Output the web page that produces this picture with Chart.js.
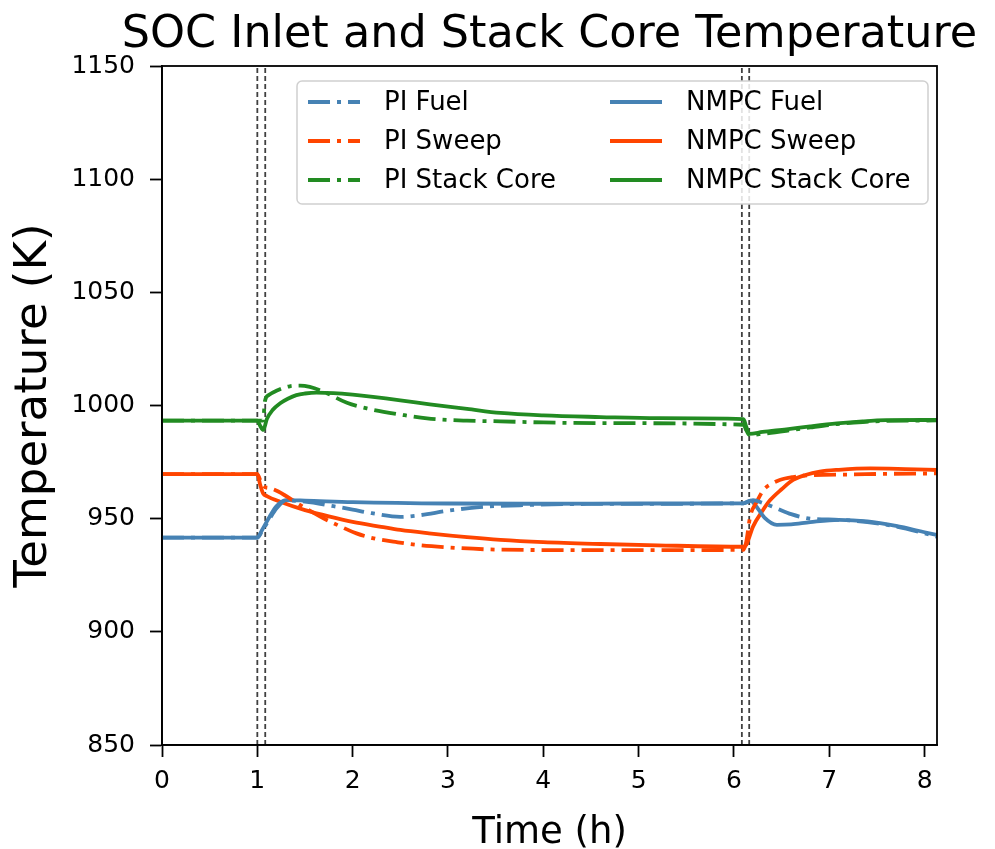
<!DOCTYPE html>
<html>
<head>
<meta charset="utf-8">
<title>SOC Inlet and Stack Core Temperature</title>
<script src="https://cdn.jsdelivr.net/npm/chart.js@4.4.1/dist/chart.umd.min.js"></script>
<style>
  html, body { margin: 0; padding: 0; background: #fff; }
</style>
</head>
<body>
<canvas id="mycanvas" width="995" height="849"></canvas>
<script>
// time (h) and temperature (K)
var tNmpcFuel = [0, 1.0, 1.05, 1.13, 1.2, 1.3, 1.5, 2.0, 3.0, 4.0, 5.0, 6.1, 6.17, 6.25, 6.32, 6.45, 6.6, 6.8, 7.1, 7.4, 7.7, 8.0, 8.13];
var nmpcFuel  = [941.6, 941.6, 945, 951, 955.5, 958.2, 958, 957.3, 956.7, 956.6, 956.7, 956.8, 958, 954.5, 950.5, 947.3, 947.5, 948.5, 949.5, 948.8, 946.8, 944, 942.8];

var tPiFuel = [0, 1.0, 1.05, 1.13, 1.2, 1.3, 1.5, 1.8, 2.0, 2.2, 2.5, 2.7, 3.0, 3.3, 3.8, 4.5, 6.1, 6.2, 6.3, 6.45, 6.6, 6.8, 7.1, 7.4, 7.7, 8.0, 8.13];
var piFuel  = [941.6, 941.6, 944.5, 950, 954.5, 958, 957.5, 955.5, 954, 952.4, 950.8, 951.5, 953.5, 955, 956, 956.5, 956.8, 958.2, 957, 954.5, 952, 950, 949.5, 948.5, 946.5, 943.5, 942];

var tNmpcSweep = [0, 1.0, 1.03, 1.06, 1.1, 1.24, 1.5, 1.76, 2.0, 2.3, 2.5, 2.8, 3.2, 3.55, 4.0, 4.6, 5.2, 6.1, 6.13, 6.2, 6.3, 6.38, 6.5, 6.62, 6.75, 6.9, 7.1, 7.43, 7.8, 8.13];
var nmpcSweep  = [969.7, 969.7, 965, 961.2, 960, 957.5, 953.8, 950.9, 948.6, 946.4, 945, 943.5, 941.8, 940.6, 939.6, 938.8, 938.2, 937.6, 938.5, 946.5, 953.5, 958.2, 963, 967.1, 969.3, 970.8, 971.6, 972.2, 971.9, 971.5];

var tPiSweep = [0, 1.0, 1.04, 1.08, 1.13, 1.22, 1.45, 1.66, 1.85, 2.04, 2.22, 2.45, 2.67, 3.0, 3.55, 4.5, 6.1, 6.13, 6.17, 6.24, 6.31, 6.4, 6.48, 6.62, 6.8, 7.2, 7.6, 8.13];
var piSweep  = [969.7, 969.7, 966, 964, 963.5, 962, 956, 950.9, 947, 943.5, 941.3, 939.7, 938.4, 937.3, 936.3, 936.1, 936.2, 940, 950.9, 957.5, 962.7, 965.5, 967.1, 968.4, 969.2, 969.5, 969.8, 970];

var tNmpcStack = [0, 1.0, 1.03, 1.063, 1.1, 1.16, 1.24, 1.32, 1.41, 1.5, 1.62, 1.8, 2.0, 2.5, 2.81, 3.2, 3.55, 4.0, 4.6, 5.2, 6.1, 6.13, 6.16, 6.3, 6.55, 6.8, 7.08, 7.35, 7.6, 8.13];
var nmpcStack  = [993.3, 993.3, 991, 989.2, 994, 998, 1001, 1003, 1004.6, 1005.3, 1005.7, 1005.5, 1004.8, 1002.3, 1000.5, 998.5, 996.7, 995.6, 994.9, 994.4, 994, 990.5, 987.5, 988.3, 989.5, 990.8, 992.1, 993, 993.5, 993.6];

var tPiStack = [0, 1.0, 1.06, 1.08, 1.12, 1.2, 1.34, 1.45, 1.55, 1.7, 1.94, 2.15, 2.53, 2.78, 3.2, 3.55, 4.0, 4.6, 6.1, 6.13, 6.16, 6.3, 6.55, 6.8, 7.08, 7.35, 7.6, 8.13];
var piStack  = [993.3, 993.3, 993.3, 1002, 1004.6, 1006.5, 1008.5, 1008.8, 1008.2, 1006, 1001.2, 998.7, 995.8, 994.3, 993.3, 993, 992.5, 992.2, 991.5, 989, 987, 987.5, 988.8, 990.3, 991.8, 992.7, 993.2, 993.4];

// step change markers (h)
var eventTimes = [1.0, 1.083, 6.083, 6.16];
var yTicks = [850, 900, 950, 1000, 1050, 1100, 1150];
var titleText = 'SOC Inlet and Stack Core Temperature';

var blue = '#4682B4', red = '#FF4500', green = '#228B22';
var fontFam = "'DejaVu Sans', sans-serif";
var dashDot = [22, 7, 4, 7];

function pts(t, v){
	var out = [];
	for(var i in t){
		out.push({x: t[i], y: v[i]});
	}
	return out;
}

function series(label, t, v, color, dash){
	return {
		label: label,
		data: pts(t, v),
		borderColor: color,
		backgroundColor: color,
		borderWidth: 3.8,
		borderDash: dash,
		pointRadius: 0,
		cubicInterpolationMode: 'monotone',
		fill: false
	};
}

var datasets = [
	series('PI Fuel', tPiFuel, piFuel, blue, dashDot),
	series('PI Sweep', tPiSweep, piSweep, red, dashDot),
	series('PI Stack Core', tPiStack, piStack, green, dashDot),
	series('NMPC Fuel', tNmpcFuel, nmpcFuel, blue, []),
	series('NMPC Sweep', tNmpcSweep, nmpcSweep, red, []),
	series('NMPC Stack Core', tNmpcStack, nmpcStack, green, [])
];

for(var e in eventTimes){
	datasets.push({
		label: '',
		data: [{x: eventTimes[e], y: yTicks[0]}, {x: eventTimes[e], y: yTicks[yTicks.length-1]}],
		borderColor: 'rgba(0,0,0,0.75)',
		borderWidth: 1.8,
		borderDash: [5, 3],
		pointRadius: 0,
		fill: false
	});
}

// full frame round the plot
var framePlugin = {
	id: 'frame',
	afterDatasetsDraw: function(chart){
		var a = chart.chartArea, ctx = chart.ctx;
		ctx.save();
		ctx.strokeStyle = '#000';
		ctx.lineWidth = 1.8;
		ctx.strokeRect(a.left, a.top, a.right - a.left, a.bottom - a.top);
		ctx.restore();
	}
};

// title centred over the plot area (built-in title squeezes long text to the box)
var plotTitle = {
	id: 'plotTitle',
	afterDraw: function(chart){
		var a = chart.chartArea, ctx = chart.ctx;
		ctx.save();
		ctx.font = '44.5px ' + fontFam;
		ctx.fillStyle = '#000';
		ctx.textAlign = 'center';
		ctx.textBaseline = 'alphabetic';
		ctx.fillText(titleText, (a.left + a.right) / 2, 47);
		ctx.restore();
	}
};

// two-column legend inside the plot, like the original
var boxLegend = {
	id: 'boxLegend',
	afterDraw: function(chart){
		var ctx = chart.ctx;
		ctx.save();
		var bx = 297, by = 81, bw = 631, bh = 123;
		ctx.fillStyle = 'rgba(255,255,255,0.85)';
		ctx.strokeStyle = '#d0d0d0';
		ctx.lineWidth = 1.5;
		ctx.beginPath();
		ctx.roundRect(bx, by, bw, bh, 5);
		ctx.fill();
		ctx.stroke();

		ctx.font = '26px ' + fontFam;
		ctx.textBaseline = 'middle';
		ctx.fillStyle = '#000';
		var colX = [308, 610];
		var rowY = [102, 141, 180];
		for(var i = 0; i < 6; i++){
			var ds = chart.data.datasets[i];
			var c = Math.floor(i / 3), r = i % 3;
			ctx.strokeStyle = ds.borderColor;
			ctx.lineWidth = ds.borderWidth;
			ctx.setLineDash(ds.borderDash);
			ctx.beginPath();
			ctx.moveTo(colX[c], rowY[r]);
			ctx.lineTo(colX[c] + 52, rowY[r]);
			ctx.stroke();
			ctx.setLineDash([]);
			ctx.fillText(ds.label, colX[c] + 76, rowY[r] + 1);
		}
		ctx.restore();
	}
};

var ctx = document.getElementById('mycanvas');
var chart = new Chart(ctx, {
	type: 'line',
	data: { datasets: datasets },
	plugins: [framePlugin, plotTitle, boxLegend],
	options: {
		responsive: false,
		animation: false,
		layout: { padding: { left: 0, right: 58, top: 66, bottom: 0 } },
		plugins: {
			legend: { display: false },
			tooltip: { enabled: false },
			title: { display: false }
		},
		scales: {
			x: {
				type: 'linear',
				min: 0,
				max: 8.13,
				afterFit: function(s){ s.height = 104; },
				ticks: { stepSize: 1, includeBounds: false, color: '#000', padding: 9, maxRotation: 0,
					font: { family: fontFam, size: 25 } },
				grid: { drawOnChartArea: false, drawTicks: true, tickLength: 12, color: '#000', tickWidth: 1.8 },
				border: { display: true, color: '#000', width: 1.8 },
				title: { display: true, text: 'Time (h)', color: '#000', padding: { top: 0, bottom: 2 },
					font: { family: fontFam, size: 37, lineHeight: 0.75 } }
			},
			y: {
				type: 'linear',
				min: yTicks[0],
				max: yTicks[yTicks.length-1],
				afterFit: function(s){ s.width = 162; },
				afterBuildTicks: function(s){
					s.ticks = [];
					for(var i in yTicks){ s.ticks.push({value: yTicks[i]}); }
				},
				ticks: { color: '#000', padding: 15, font: { family: fontFam, size: 25 },
					callback: function(v){ return String(v); } },
				grid: { drawOnChartArea: false, drawTicks: true, tickLength: 12, color: '#000', tickWidth: 1.8 },
				border: { display: true, color: '#000', width: 1.8 },
				title: { display: true, text: 'Temperature (K)', color: '#000', padding: { top: 10, bottom: 0 },
					font: { family: fontFam, size: 45, lineHeight: 1.1 } }
			}
		}
	}
});
</script>
</body>
</html>
